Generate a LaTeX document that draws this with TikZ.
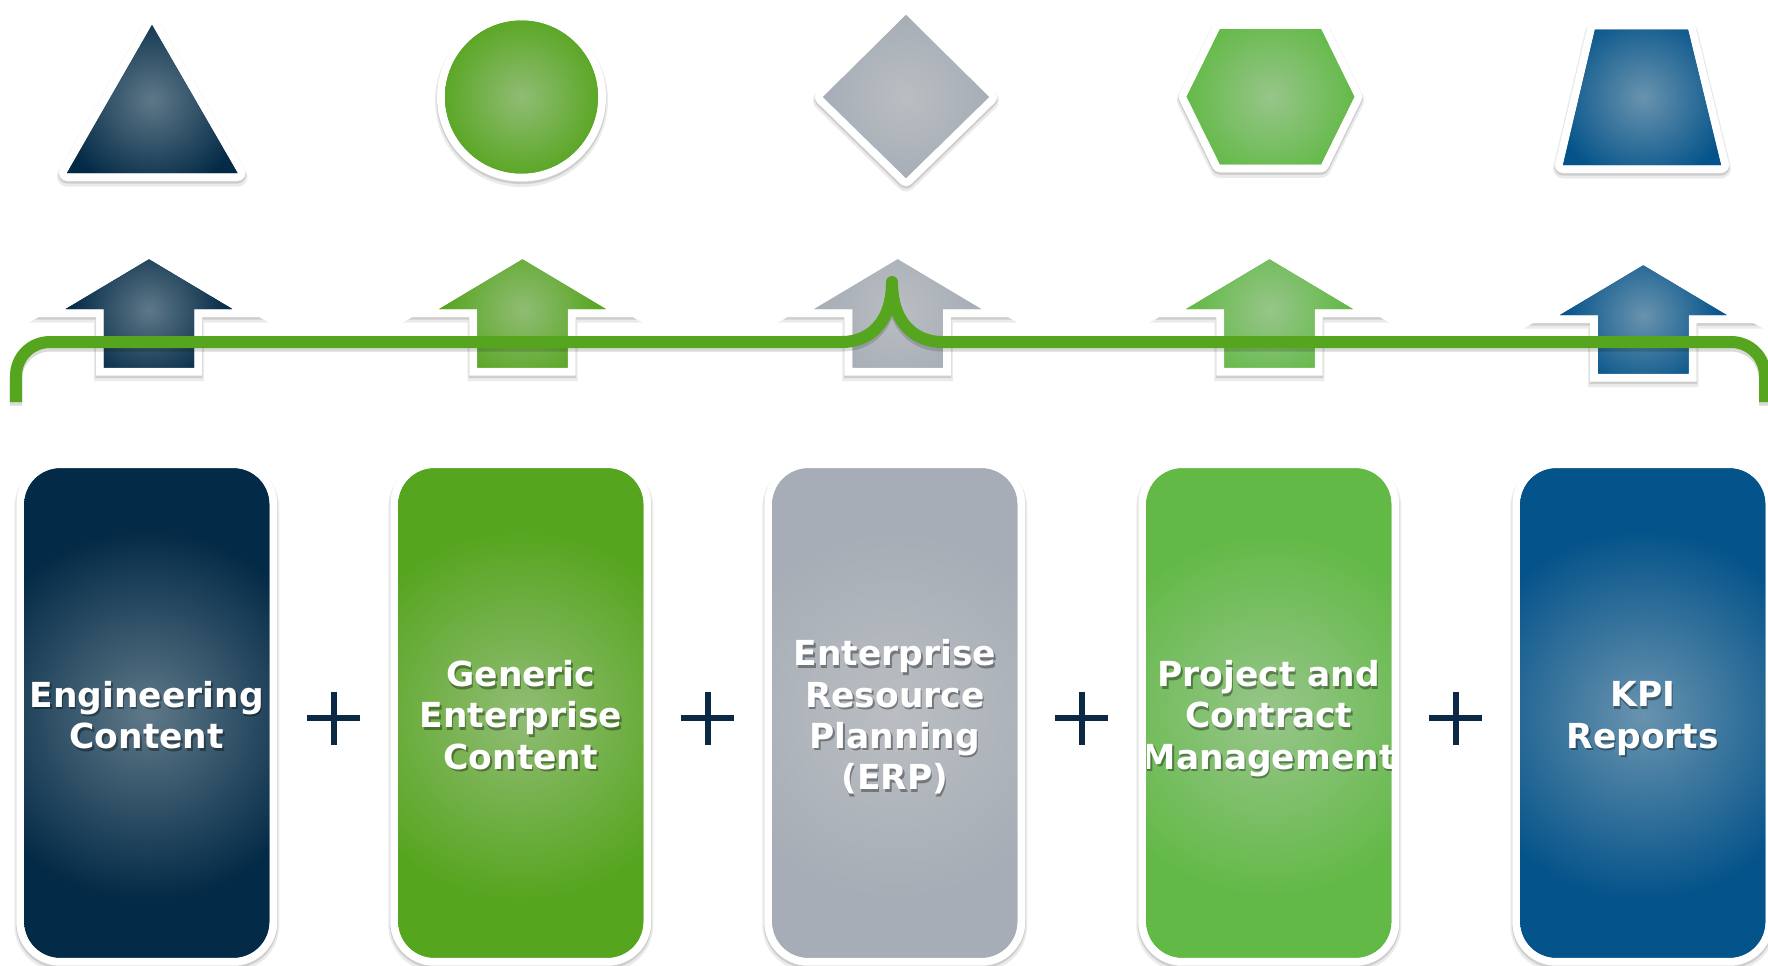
\documentclass[tikz,border=0pt]{standalone}
\usepackage{fontspec}
\setmainfont{DejaVu Sans}
\definecolor{cNavy}{HTML}{032A46}
\definecolor{cNavyL}{HTML}{5E7888}
\definecolor{cGreen}{HTML}{56A51F}
\definecolor{cGreenL}{HTML}{90BC74}
\definecolor{cGray}{HTML}{A6ADB6}
\definecolor{cGrayL}{HTML}{BABEC2}
\definecolor{cLime}{HTML}{62B946}
\definecolor{cLimeL}{HTML}{97C58A}
\definecolor{cBlue}{HTML}{04538A}
\definecolor{cBlueL}{HTML}{6993AE}
\definecolor{cLine}{HTML}{55A51E}
\definecolor{cPlus}{HTML}{0B2944}
% glow shadings: light centre, base colour from 12bp outwards
\pgfdeclareradialshading{glowNavy}{\pgfpointorigin}{color(0bp)=(cNavyL); color(12bp)=(cNavy); color(50bp)=(cNavy)}
\pgfdeclareradialshading{glowGreen}{\pgfpointorigin}{color(0bp)=(cGreenL); color(12bp)=(cGreen); color(50bp)=(cGreen)}
\pgfdeclareradialshading{glowGray}{\pgfpointorigin}{color(0bp)=(cGrayL); color(12bp)=(cGray); color(50bp)=(cGray)}
\pgfdeclareradialshading{glowLime}{\pgfpointorigin}{color(0bp)=(cLimeL); color(12bp)=(cLime); color(50bp)=(cLime)}
\pgfdeclareradialshading{glowBlue}{\pgfpointorigin}{color(0bp)=(cBlueL); color(12bp)=(cBlue); color(50bp)=(cBlue)}
% shape with white border, soft shadow and radial glow
% #1 border options, #2 path, #3 fill colour, #4 glow shading, #5 glow centre, #6 glow radius
\newcommand\fshape[6][]{%
  \draw[shA,#1] #2;
  \draw[shB,#1] #2;
  \draw[wborder,#1] #2;
  \fill[#3] #2;
  \begin{scope}
    \clip #2;
    \shade[shading=#4] #5 circle[radius=#6*2.08];
  \end{scope}}
\newcommand\arrowshape[2]{(#1,259.3+#2) -- (#1+83.3,309+#2) -- (#1+45.2,309+#2) -- (#1+45.2,367.5+#2) -- (#1-45.2,367.5+#2) -- (#1-45.2,309+#2) -- (#1-83.3,309+#2) -- cycle}
\newcommand\boxshape[1]{[rounded corners=0.36cm] (#1-122.5,468.3) rectangle (#1+122.5,957.7)}
\newcommand\boxlabel[4][0]{%
  \begin{scope}
    \clip \boxshape{#3};
    \node[lblshadow] at (#3+1.5,715+2.5+#1) {#4};
    \node[lbl] (#2) at (#3,715+#1) {#4};
  \end{scope}}
\newcommand\plussign[1]{%
  \draw[plusline] (#1-26.5,718) -- (#1+26.5,718);
  \draw[plusline] (#1,718-26.5) -- (#1,718+26.5);}
\begin{document}
\begin{tikzpicture}[x=0.01cm,y=-0.01cm,
  wborder/.style={draw=white, line width=0.16cm, line join=round},
  shA/.style={draw=black, opacity=0.08, line width=0.20cm, line join=round, transform canvas={yshift=-1.0pt}},
  shB/.style={draw=black, opacity=0.12, line width=0.17cm, line join=round, transform canvas={yshift=-0.6pt}},
  sharp/.style={line join=miter, miter limit=10},
  lbl/.style={text=white, align=center, inner sep=0pt, font=\bfseries\fontsize{9.8}{11.75}\selectfont},
  lblshadow/.style={lbl, text=black, opacity=0.35},
  plusline/.style={draw=cPlus, line width=0.065cm},
  brace/.style={draw=cLine, line width=0.12cm, line join=round, line cap=butt},
  braceshadow/.style={draw=black, opacity=0.15, line width=0.12cm, line join=round, transform canvas={yshift=-1.0pt}}]
\useasboundingbox (0,0) rectangle (1768,966);
\fill[white] (0,0) rectangle (1768,966);

% ---- top shapes ----
\fshape{(152,25) -- (237.5,173) -- (67,173) -- cycle}{cNavy}{glowNavy}{(152,100)}{95}
\fshape{(521.5,97) circle[radius=76.5]}{cGreen}{glowGreen}{(521.5,97)}{85}
\fshape{(906,15) -- (989,97) -- (906,178) -- (823,97) -- cycle}{cGray}{glowGray}{(906,97)}{85}
\fshape{(1220,29) -- (1321,29) -- (1354.3,96.7) -- (1321,164.3) -- (1220,164.3) -- (1186.7,96.7) -- cycle}{cLime}{glowLime}{(1270.5,97)}{88}
\fshape{(1595,29.5) -- (1688,29.5) -- (1721,165) -- (1563,165) -- cycle}{cBlue}{glowBlue}{(1643,97)}{90}

% ---- arrows ----
\fshape[sharp]{\arrowshape{149}{0}}{cNavy}{glowNavy}{(149,310)}{80}
\fshape[sharp]{\arrowshape{522.5}{0}}{cGreen}{glowGreen}{(522.5,310)}{80}
\fshape[sharp]{\arrowshape{897.7}{0}}{cGray}{glowGray}{(897.7,310)}{80}
\fshape[sharp]{\arrowshape{1269.5}{0}}{cLime}{glowLime}{(1269.5,310)}{80}
\fshape[sharp]{\arrowshape{1643.3}{6}}{cBlue}{glowBlue}{(1643.3,316)}{80}

% ---- green brace line ----
\draw[braceshadow] (16,402) -- (16,376) .. controls (16,357) and (31,342) .. (50,342) -- (842,342) .. controls (868,342) and (892,324) .. (892,282) .. controls (892,324) and (916,342) .. (942,342) -- (1731,342) .. controls (1750,342) and (1765,357) .. (1765,376) -- (1765,402);
\draw[brace] (16,402) -- (16,376) .. controls (16,357) and (31,342) .. (50,342) -- (842,342) .. controls (868,342) and (892,324) .. (892,282) .. controls (892,324) and (916,342) .. (942,342) -- (1731,342) .. controls (1750,342) and (1765,357) .. (1765,376) -- (1765,402);

% ---- boxes ----
\fshape{\boxshape{146.8}}{cNavy}{glowNavy}{(146.8,715)}{185}
\fshape{\boxshape{520.8}}{cGreen}{glowGreen}{(520.8,715)}{185}
\fshape{\boxshape{894.8}}{cGray}{glowGray}{(894.8,715)}{185}
\fshape{\boxshape{1268.8}}{cLime}{glowLime}{(1268.8,715)}{185}
\fshape{\boxshape{1642.8}}{cBlue}{glowBlue}{(1642.8,715)}{185}

\boxlabel{eng}{146.8}{Engineering\\Content}
\boxlabel{gec}{520.8}{Generic\\Enterprise\\Content}
\boxlabel[2]{erp}{894.8}{Enterprise\\Resource\\Planning\\(ERP)}
\boxlabel[3.5]{pcm}{1268.8}{Project and\\Contract\\Management}
\boxlabel[3.5]{kpi}{1642.8}{KPI\\Reports}

% ---- plus signs ----
\plussign{333.8}
\plussign{707.8}
\plussign{1081.8}
\plussign{1455.8}
\end{tikzpicture}
\end{document}
